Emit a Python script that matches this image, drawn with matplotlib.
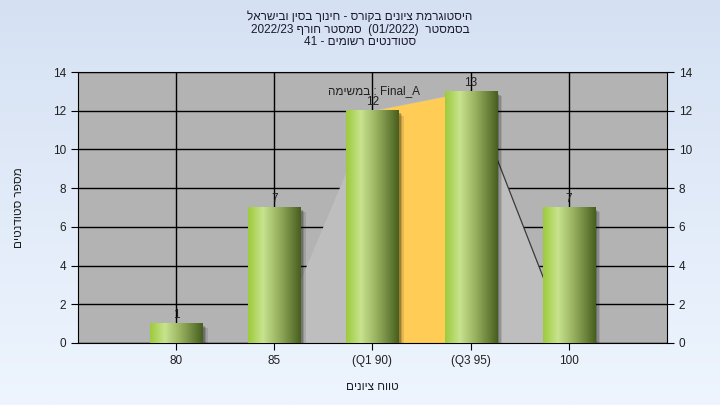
import re
import numpy as np
import matplotlib.pyplot as plt
from matplotlib.colors import LinearSegmentedColormap
from matplotlib.patches import Rectangle, Polygon

plt.rcParams['font.family'] = ['Liberation Sans', 'DejaVu Sans']

# data
categories = ['80', '85', '(Q1 90)', '(Q3 95)', '100']
counts = [1, 7, 12, 13, 7]
# light gray distribution area (category index, value)
dist_x = [1, 2, 3, 4]
dist_y = [0, 12, 13, 0]
q1_idx, q3_idx = 2, 3

title_lines = ['היסטוגרמת ציונים בקורס - חינוך בסין ובישראל',
               'בסמסטר  (01/2022)  סמסטר חורף 2022/23',
               'סטודנטים רשומים - 41']
legend_text = 'במשימה : Final_A'
xlabel = 'טווח ציונים'
ylabel = 'מספר סטודנטים'


def is_heb(c):
    return '\u0590' <= c <= '\u05ff'


def heb(s):
    # LTR line: reverse only the runs of Hebrew text
    res, i = '', 0
    while i < len(s):
        if is_heb(s[i]):
            j = i
            while j < len(s) and (is_heb(s[j]) or (s[j] == ' ' and j + 1 < len(s) and is_heb(s[j + 1]))):
                j += 1
            res += s[i:j][::-1]
            i = j
        else:
            res += s[i]
            i += 1
    return res


def rtl(s):
    # RTL line: word order reversed, Hebrew words reversed
    parts = re.split(r'(\s+)', s)[::-1]
    return ''.join(p[::-1] if any(is_heb(c) for c in p) else p for p in parts)


fig = plt.figure(figsize=(7.2, 4.05), dpi=100)

# figure background gradient
bg = fig.add_axes([0, 0, 1, 1], zorder=-10)
grad = np.linspace(0, 1, 256).reshape(-1, 1)
bg_cmap = LinearSegmentedColormap.from_list('bg', ['#d5e1f3', '#eef5fe'])
bg.imshow(grad, aspect='auto', cmap=bg_cmap, extent=[0, 1, 0, 1], origin='upper')
bg.axis('off')

ax = fig.add_axes([0.1083, 0.1531, 0.8181, 0.6691])
ax.set_facecolor('#b3b3b3')
x = np.arange(len(categories))

ax.set_xticks(x)
ax.set_yticks(range(0, 15, 2))
ax.grid(True, color='black', linewidth=1.0, zorder=0)
ax.set_axisbelow(True)

# distribution area
ax.add_patch(Polygon(list(zip(dist_x, dist_y)), closed=True, facecolor='#bebebe',
                     edgecolor='none', zorder=1))
ax.fill_between([q1_idx, q3_idx], [0, 0], [dist_y[dist_x.index(q1_idx)], dist_y[dist_x.index(q3_idx)]],
                color='#ffcc55', linewidth=0, zorder=1.5)
ax.plot(dist_x[-2:], dist_y[-2:], color='#3a3a3a', linewidth=0.9, zorder=1.6)

# bars with gradient and shadow
bar_w = 0.53
bar_cmap = LinearSegmentedColormap.from_list(
    'bar', [(0, '#9ccb3c'), (0.28, '#c8e38e'), (0.6, '#94ad5c'), (1, '#475f1e')])
bar_grad = np.linspace(0, 1, 200).reshape(1, -1)
for xi, c in zip(x, counts):
    x0 = xi - bar_w / 2
    for k, a in enumerate([0.10, 0.14, 0.2]):
        d = 0.055 - k * 0.015
        ax.add_patch(Rectangle((x0 + d, -0.25), bar_w, c + 0.25 - d * 4.5,
                               facecolor='black', alpha=a, edgecolor='none', zorder=2))
    ax.imshow(bar_grad, aspect='auto', cmap=bar_cmap, extent=[x0, x0 + bar_w, 0, c],
              zorder=3, interpolation='bilinear')
    ax.annotate(str(c), (xi, c), xytext=(0, 2), textcoords='offset points',
                ha='center', va='bottom', fontsize=8.5, color='#202020', zorder=5)

ax.text(1.55, 13.0, heb(legend_text), ha='left', va='center', fontsize=8.5, color='#202020', zorder=5)

ax.set_xlim(-1, 5)
ax.set_ylim(0, 14)
ax.set_xticklabels(categories)
for s in ax.spines.values():
    s.set_color('black')
ax.tick_params(axis='both', colors='black', labelcolor='#202020', labelsize=8.5, length=5, direction='out')
ax.tick_params(axis='y', left=True, right=True, labelleft=True, labelright=True)

ax.set_xlabel(heb(xlabel), fontsize=8.5, color='#202020', labelpad=10)
ax.set_ylabel(heb(ylabel), fontsize=8.5, color='#202020', labelpad=20)

for i, line in enumerate(title_lines):
    fig.text(0.5, 1 - (17 + i * 12.5) / 405, rtl(line), ha='center', va='center',
             fontsize=8.5, color='#1a1a2a')

fig.savefig('out.png', dpi=100)
